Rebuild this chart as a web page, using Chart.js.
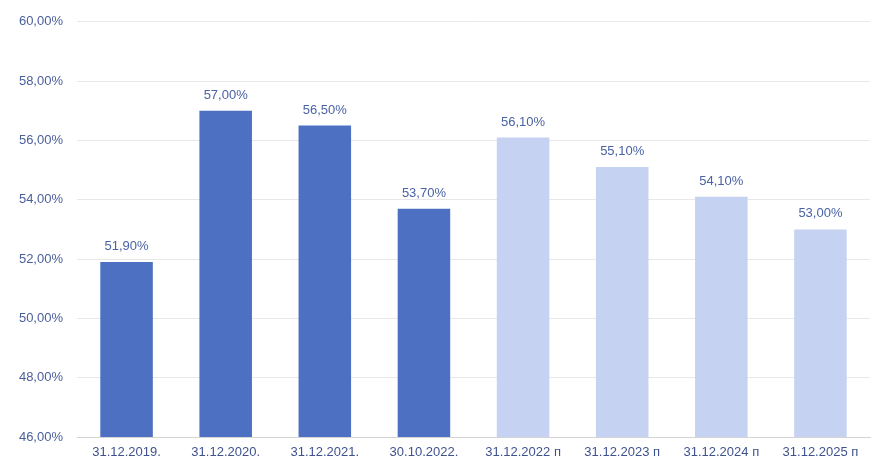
<!DOCTYPE html>
<html>
<head>
<meta charset="utf-8">
<script src="https://cdn.jsdelivr.net/npm/chart.js@4/dist/chart.umd.min.js"></script>
<style>
  html, body { margin: 0; padding: 0; background: #fff; }
  #wrap { width: 878px; height: 472px; }
</style>
</head>
<body>
<div id="wrap"><canvas id="chart"></canvas></div>
<script>
const categories = ["31.12.2019.", "31.12.2020.", "31.12.2021.", "30.10.2022.",
  "31.12.2022 п", "31.12.2023 п", "31.12.2024 п", "31.12.2025 п"];
const values = [51.9, 57.0, 56.5, 53.7, 56.1, 55.1, 54.1, 53.0];
const isForecast = [false, false, false, false, true, true, true, true];
const yTicks = [46, 48, 50, 52, 54, 56, 58, 60];

const FONT = "'Liberation Sans', Arial, sans-serif";
const pct = v => v.toFixed(2).replace(".", ",") + "%";

// value labels over each bar
const barLabels = {
  id: "barLabels",
  afterDatasetsDraw(chart) {
    const ctx = chart.ctx;
    const meta = chart.getDatasetMeta(0);
    ctx.save();
    ctx.font = "13px " + FONT;
    ctx.fillStyle = "#4a62a6";
    ctx.textAlign = "center";
    ctx.textBaseline = "bottom";
    meta.data.forEach((bar, i) => {
      ctx.fillText(pct(values[i]), bar.x, bar.y - 9);
    });
    ctx.restore();
  }
};

new Chart(document.getElementById("chart").getContext("2d"), {
  type: "bar",
  data: {
    labels: categories,
    datasets: [{
      data: values,
      backgroundColor: isForecast.map(f => f ? "#c6d2f2" : "#4d70c2"),
      categoryPercentage: 1,
      barPercentage: 0.53
    }]
  },
  options: {
    responsive: true,
    maintainAspectRatio: false,
    animation: false,
    layout: { padding: { top: 21, right: 8, left: 0, bottom: 0 } },
    plugins: { legend: { display: false }, tooltip: { enabled: false } },
    scales: {
      x: {
        grid: { display: false },
        border: { color: "#d4d4d4" },
        ticks: { color: "#3f5290", font: { family: FONT, size: 13 }, padding: 0, maxRotation: 0 },
        afterFit(scale) { scale.height = 35; }
      },
      y: {
        min: 46,
        max: 60,
        afterBuildTicks(scale) { scale.ticks = yTicks.map(v => ({ value: v })); },
        grid: { color: "#e8e8e8", drawTicks: false },
        border: { display: false },
        ticks: {
          color: "#4a5e9c",
          font: { family: FONT, size: 13 },
          padding: 14,
          callback: v => pct(v)
        },
        afterFit(scale) { scale.width = 77; }
      }
    }
  },
  plugins: [barLabels]
});
</script>
</body>
</html>
